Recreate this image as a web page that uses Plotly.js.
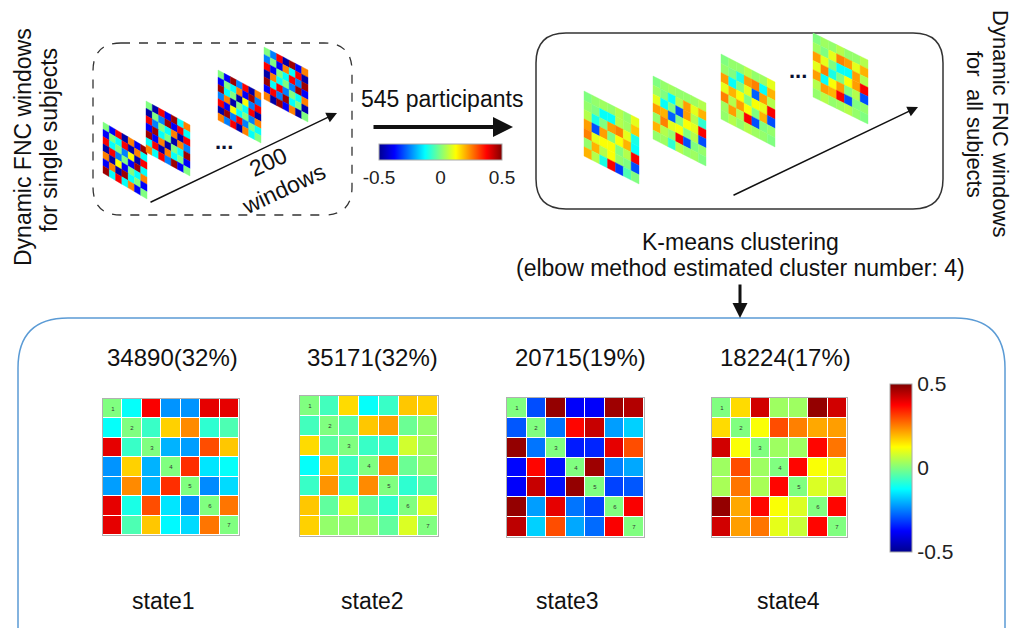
<!DOCTYPE html>
<html>
<head>
<meta charset="utf-8">
<script src="https://cdn.plot.ly/plotly-3.0.1.min.js"></script>
<style>html,body{margin:0;padding:0;background:#fff;}#chart{width:1016px;height:628px;}</style>
</head>
<body>
<div id="chart"></div>
<script>
// ---------------- DATA ----------------
const stateNames = ['state1', 'state2', 'state3', 'state4'];
const stateCounts = ['34890(32%)', '35171(32%)', '20715(19%)', '18224(17%)'];
const nodeLabels = ['1', '2', '3', '4', '5', '6', '7'];
const colorTicks = [-0.5, 0, 0.5];
const colorTickText = ['-0.5', '0', '0.5'];

const state1 = [
  [0, -0.12, 0.38, -0.23, -0.23, 0.4, 0.4],
  [-0.12, 0, -0.07, 0.17, 0.24, -0.08, -0.05],
  [0.4, -0.07, 0, -0.2, -0.22, 0.3, 0.18],
  [-0.23, 0.17, -0.2, 0, 0.33, -0.15, -0.12],
  [-0.22, 0.24, -0.2, 0.33, 0, -0.24, -0.16],
  [0.4, -0.1, 0.3, -0.15, -0.24, 0, 0.26],
  [0.4, -0.05, 0.18, -0.13, -0.16, 0.26, 0]
];
const state2 = [
  [0, -0.06, 0.16, -0.12, -0.07, 0.18, 0.17],
  [-0.06, 0, -0.04, 0.18, 0.22, -0.02, 0.02],
  [0.16, -0.04, 0, -0.07, -0.07, 0.08, 0.03],
  [-0.12, 0.18, -0.07, 0, 0.24, -0.02, 0.02],
  [-0.07, 0.23, -0.07, 0.24, 0, -0.08, -0.04],
  [0.18, -0.03, 0.09, -0.03, -0.08, 0, 0.09],
  [0.17, 0.02, 0.02, 0.02, -0.03, 0.09, 0]
];
const state3 = [
  [0, -0.3, 0.48, -0.38, -0.38, 0.47, 0.45],
  [-0.29, 0, -0.26, 0.37, 0.43, -0.22, -0.17],
  [0.48, -0.26, 0, -0.35, -0.34, 0.4, 0.3],
  [-0.37, 0.37, -0.36, 0, 0.47, -0.25, -0.21],
  [-0.38, 0.43, -0.36, 0.48, 0, -0.31, -0.29],
  [0.48, -0.22, 0.4, -0.26, -0.31, 0, 0.38],
  [0.44, -0.17, 0.3, -0.21, -0.27, 0.38, 0]
];
const state4 = [
  [0, 0.16, 0.42, 0.03, 0.03, 0.48, 0.42],
  [0.16, 0, 0.12, 0.3, 0.25, 0.21, 0.22],
  [0.42, 0.12, 0, 0.03, 0.03, 0.37, 0.26],
  [0.03, 0.3, 0.03, 0, 0.37, 0.12, 0.1],
  [0.04, 0.26, 0.04, 0.37, 0, 0.09, 0.07],
  [0.48, 0.21, 0.37, 0.12, 0.09, 0, 0.37],
  [0.42, 0.22, 0.26, 0.1, 0.07, 0.37, 0]
];

// single-subject windows (left box)
const subjWin1 = [
  [0, -0.38, 0.38, -0.47, 0.25, -0.38, 0.47],
  [-0.38, 0, -0.12, 0.38, -0.47, 0.25, -0.12],
  [0.38, -0.12, 0, -0.25, 0.12, -0.47, 0.38],
  [-0.47, 0.38, -0.25, 0, -0.38, 0.47, -0.12],
  [0.25, -0.47, 0.12, -0.38, 0, -0.12, 0.25],
  [-0.38, 0.25, -0.47, 0.47, -0.12, 0, -0.38],
  [0.47, -0.12, 0.38, -0.12, 0.25, -0.38, 0]
];
const subjWin2 = [
  [0, -0.47, 0.38, -0.38, 0.47, -0.12, 0.25],
  [-0.47, 0, -0.25, 0.47, -0.38, 0.38, -0.12],
  [0.38, -0.25, 0, -0.12, 0.25, -0.47, 0.38],
  [-0.38, 0.47, -0.12, 0, -0.47, 0.25, -0.25],
  [0.47, -0.38, 0.25, -0.47, 0, -0.12, 0.47],
  [-0.12, 0.38, -0.47, 0.25, -0.12, 0, -0.38],
  [0.25, -0.12, 0.38, -0.25, 0.47, -0.38, 0]
];
const subjWin3 = [
  [0, -0.38, 0.47, -0.25, 0.38, -0.47, 0.25],
  [-0.38, 0, -0.12, 0.25, -0.38, 0.47, -0.25],
  [0.47, -0.12, 0, -0.47, 0.12, -0.25, 0.38],
  [-0.25, 0.25, -0.47, 0, -0.12, 0.38, -0.47],
  [0.38, -0.38, 0.12, -0.12, 0, -0.25, 0.25],
  [-0.47, 0.47, -0.25, 0.38, -0.25, 0, -0.12],
  [0.25, -0.25, 0.38, -0.47, 0.25, -0.12, 0]
];
const subjWin4 = [
  [0, -0.25, 0.38, -0.47, 0.47, -0.38, 0.25],
  [-0.25, 0, -0.38, 0.25, -0.12, 0.38, -0.47],
  [0.38, -0.38, 0, -0.12, 0.38, -0.25, 0.47],
  [-0.47, 0.25, -0.12, 0, -0.25, 0.47, -0.38],
  [0.47, -0.12, 0.38, -0.25, 0, -0.12, 0.25],
  [-0.38, 0.38, -0.25, 0.47, -0.12, 0, -0.47],
  [0.25, -0.47, 0.47, -0.38, 0.25, -0.47, 0]
];

// group windows (right box)
const groupWin1 = [
  [0, 0.02, 0.03, 0.02, 0.05, 0.02, 0.1],
  [0.02, 0, -0.12, -0.12, 0.05, 0.03, 0.18],
  [0.05, -0.1, 0, 0.22, 0.25, 0.1, -0.1],
  [0.22, -0.3, 0.22, 0, 0.12, 0.2, -0.12],
  [0.25, 0.1, 0.12, 0.12, 0, 0.05, 0.38],
  [0.02, 0.2, 0.05, 0.12, 0.02, 0, -0.3],
  [0.2, 0.05, -0.1, 0.38, -0.32, -0.05, 0]
];
const groupWin2 = [
  [0, 0.02, 0.03, 0.02, 0.02, 0.03, 0.05],
  [0.03, 0, -0.12, 0.05, 0.22, 0.1, 0.2],
  [0.1, -0.12, 0, -0.3, 0.22, 0.05, -0.08],
  [0.22, 0.2, -0.28, 0, 0.12, 0.1, 0.38],
  [0.02, 0.25, 0.1, 0.12, 0, 0.05, -0.3],
  [0.2, 0.05, 0.02, 0.38, -0.3, 0, 0.02],
  [0.02, 0.03, -0.08, 0.05, 0.02, 0.03, 0]
];
const groupWin3 = [
  [0, 0.02, 0.02, 0.05, 0.02, 0.03, 0.1],
  [0.02, 0, -0.1, 0.22, 0.25, -0.12, 0.2],
  [0.22, -0.12, 0, 0.1, -0.28, 0.22, 0.05],
  [0.1, 0.2, 0.12, 0, 0.12, 0.1, 0.38],
  [0.25, 0.05, 0.22, 0.12, 0, 0.2, -0.3],
  [0.03, 0.22, 0.05, 0.38, -0.3, 0, 0.02],
  [0.02, 0.05, 0.02, 0.05, 0.03, 0.02, 0]
];
const groupWin4 = [
  [0, 0.03, 0.02, 0.05, 0.02, 0.02, 0.05],
  [0.03, 0, 0.1, 0.25, 0.22, 0.1, 0.2],
  [0.22, 0.1, 0, -0.12, -0.12, 0.22, 0.05],
  [0.1, 0.25, -0.1, 0, 0.12, 0.22, 0.38],
  [0.22, -0.12, 0.12, 0.22, 0, 0.05, -0.3],
  [0.05, 0.22, 0.2, 0.38, -0.3, 0, 0.02],
  [0.02, 0.05, 0.02, 0.03, 0.05, 0.02, 0]
];

// ---------------- LAYOUT HELPERS ----------------
const W = 1016, H = 628;
const FONT = 'Liberation Sans, Arial, sans-serif';
const jetScale = [
  [0, 'rgb(0,0,143)'], [0.125, 'rgb(0,0,255)'], [0.375, 'rgb(0,255,255)'],
  [0.625, 'rgb(255,255,0)'], [0.875, 'rgb(255,0,0)'], [1, 'rgb(128,0,0)']
];
function jet(v) {
  let t = (v + 0.5);
  t = Math.max(0, Math.min(1, t));
  const stops = [[0, [0, 0, 143]], [0.125, [0, 0, 255]], [0.375, [0, 255, 255]],
                 [0.625, [255, 255, 0]], [0.875, [255, 0, 0]], [1, [128, 0, 0]]];
  for (let k = 0; k < stops.length - 1; k++) {
    const a = stops[k], b = stops[k + 1];
    if (t <= b[0]) {
      const f = (t - a[0]) / (b[0] - a[0]);
      const c = a[1].map((x, i) => Math.round(x + f * (b[1][i] - x)));
      return 'rgb(' + c.join(',') + ')';
    }
  }
  return 'rgb(128,0,0)';
}
function rr(x0, y0, x1, y1, r) {
  return `M${x0 + r},${y0} L${x1 - r},${y0} Q${x1},${y0} ${x1},${y0 + r} L${x1},${y1 - r} Q${x1},${y1} ${x1 - r},${y1} L${x0 + r},${y1} Q${x0},${y1} ${x0},${y1 - r} L${x0},${y0 + r} Q${x0},${y0} ${x0 + r},${y0} Z`;
}

// skewed window geometry (pixels): left-top corner, width, side height, skew drop
const skewGeom = [
  {m: subjWin1, x0: 103, y0: 122, w: 44, h: 51, dy: 26},
  {m: subjWin2, x0: 146, y0: 101, w: 44, h: 51, dy: 24},
  {m: subjWin3, x0: 218, y0: 70, w: 43, h: 50, dy: 23},
  {m: subjWin4, x0: 264, y0: 47, w: 44, h: 52, dy: 23},
  {m: groupWin1, x0: 584, y0: 91, w: 55, h: 65, dy: 28},
  {m: groupWin2, x0: 653, y0: 76, w: 53, h: 63, dy: 27},
  {m: groupWin3, x0: 721, y0: 54, w: 54, h: 65, dy: 28},
  {m: groupWin4, x0: 813, y0: 33, w: 55, h: 64, dy: 27}
];

const shapes = [];
// boxes
shapes.push({type: 'path', xref: 'x', yref: 'y', path: rr(93, 43, 352, 215, 28),
  line: {color: '#333', width: 1.3, dash: 'dash'}});
shapes.push({type: 'path', xref: 'x', yref: 'y', path: rr(536, 33, 943, 209, 30),
  line: {color: '#333', width: 1.5}});
shapes.push({type: 'path', xref: 'x', yref: 'y', path: rr(18, 318, 1005, 680, 50),
  line: {color: '#5b9bd5', width: 1.5}});

skewGeom.forEach(g => {
  const n = g.m.length;
  const P = (i, j) => [g.x0 + j * g.w / n, g.y0 + i * g.h / n + j * g.dy / n];
  for (let i = 0; i < n; i++) {
    for (let j = 0; j < n; j++) {
      const a = P(i, j), b = P(i, j + 1), c = P(i + 1, j + 1), d = P(i + 1, j);
      const col = jet(g.m[i][j]);
      shapes.push({type: 'path', xref: 'x', yref: 'y',
        path: `M${a[0]},${a[1]} L${b[0]},${b[1]} L${c[0]},${c[1]} L${d[0]},${d[1]} Z`,
        fillcolor: col, line: {color: col, width: 0.4}});
    }
  }
});

// ---------------- TRACES ----------------
const stateData = [state1, state2, state3, state4];
const stateBoxes = [
  {x0: 103, x1: 239, y0: 399, y1: 535},
  {x0: 300, x1: 438, y0: 396, y1: 536},
  {x0: 507, x1: 644, y0: 398, y1: 537},
  {x0: 712, x1: 847, y0: 398, y1: 537}
];
const diagText = nodeLabels.map((lab, i) => nodeLabels.map((_, j) => (i === j ? lab : '')));

const traces = [];
const layout = {
  width: W, height: H,
  margin: {l: 0, r: 0, t: 0, b: 0, pad: 0},
  paper_bgcolor: '#fff', plot_bgcolor: '#fff',
  showlegend: false,
  font: {family: FONT, color: '#111'},
  xaxis: {range: [0, W], domain: [0, 1], visible: false, fixedrange: true},
  yaxis: {range: [H, 0], domain: [0, 1], visible: false, fixedrange: true},
  shapes: shapes,
  annotations: []
};

stateData.forEach((z, k) => {
  const b = stateBoxes[k];
  const xa = 'x' + (k + 2), ya = 'y' + (k + 2);
  const tr = {
    type: 'heatmap', z: z, xaxis: xa, yaxis: ya,
    zmin: -0.5, zmax: 0.5, colorscale: jetScale,
    xgap: 1, ygap: 1,
    text: diagText, texttemplate: '%{text}', textfont: {size: 6, color: '#333'},
    showscale: false, hoverongaps: false
  };
  if (k === 0) {
    tr.showscale = true;
    tr.colorbar = {
      x: 890 / W, xanchor: 'left', xpad: 0, y: 1 - 468 / H, yanchor: 'middle', ypad: 0,
      len: 168, lenmode: 'pixels', thickness: 22, thicknessmode: 'pixels',
      tickvals: colorTicks, ticktext: colorTickText, ticks: '',
      tickfont: {size: 21, color: '#222', family: FONT},
      outlinewidth: 1, outlinecolor: '#aaa'
    };
  }
  if (k === 1) {
    tr.showscale = true;
    tr.colorbar = {
      orientation: 'h',
      x: 440.5 / W, xanchor: 'center', xpad: 0, y: 1 - 144 / H, yanchor: 'top', ypad: 0,
      len: 123, lenmode: 'pixels', thickness: 16, thicknessmode: 'pixels',
      tickvals: colorTicks, ticktext: colorTickText, ticks: '',
      tickfont: {size: 19, color: '#222', family: FONT},
      outlinewidth: 1, outlinecolor: '#aaa'
    };
  }
  traces.push(tr);
  const axCommon = {showgrid: false, zeroline: false, showticklabels: false, ticks: '',
    showline: true, mirror: true, linecolor: '#b0b0b0', linewidth: 1, fixedrange: true};
  layout['xaxis' + (k + 2)] = Object.assign({}, axCommon, {
    domain: [b.x0 / W, b.x1 / W], anchor: ya, range: [-0.5, 6.5]});
  layout['yaxis' + (k + 2)] = Object.assign({}, axCommon, {
    domain: [1 - b.y1 / H, 1 - b.y0 / H], anchor: xa, range: [6.5, -0.5]});
});

// ---------------- TEXT & ARROWS ----------------
const A = layout.annotations;
function txt(t, x, y, size, angle, extra) {
  A.push(Object.assign({text: t, x: x, y: y, xref: 'x', yref: 'y', showarrow: false,
    font: {size: size, family: FONT, color: '#111'}, textangle: angle || 0,
    xanchor: 'center', yanchor: 'middle'}, extra || {}));
}
function arrow(x0, y0, x1, y1, w, size) {
  A.push({text: '', x: x1, y: y1, ax: x0, ay: y0, xref: 'x', yref: 'y', axref: 'x', ayref: 'y',
    showarrow: true, arrowhead: 2, arrowsize: size, arrowwidth: w, arrowcolor: '#111', standoff: 0});
}

txt('Dynamic FNC windows', 23, 147, 23, -90);
txt('for single subjects', 49, 140, 23, -90);
txt('Dynamic FNC windows', 1001, 123, 22, 90);
txt('for  all subjects', 975, 124, 22, 90);
txt('545 participants', 442, 99, 23, 0);
txt('K-means clustering', 740, 242, 23, 0);
txt('(elbow method estimated cluster number: 4)', 740, 268, 23, 0);
txt('...', 224, 141, 22, 0, {font: {size: 22, family: FONT, color: '#0a1030', weight: 'bold'}});
txt('...', 798, 70, 22, 0, {font: {size: 22, family: FONT, color: '#0a1030', weight: 'bold'}});
txt('200', 268, 162, 23, -25);
txt('windows', 283, 189, 23, -25);

arrow(372, 127, 513, 127, 4, 1);
arrow(740, 283, 740, 318, 3, 1);
arrow(149, 203, 337, 113, 1.5, 1.4);
arrow(732, 196, 918, 107, 1.5, 1.4);

const countX = [172, 372, 580, 785];
const stateX = [163, 372, 567, 788];
stateCounts.forEach((c, k) => txt(c, countX[k], 357, 24, 0));
stateNames.forEach((s, k) => txt(s, stateX[k], 601, 23, 0));

Plotly.newPlot('chart', traces, layout, {displayModeBar: false, staticPlot: true});
</script>
</body>
</html>
